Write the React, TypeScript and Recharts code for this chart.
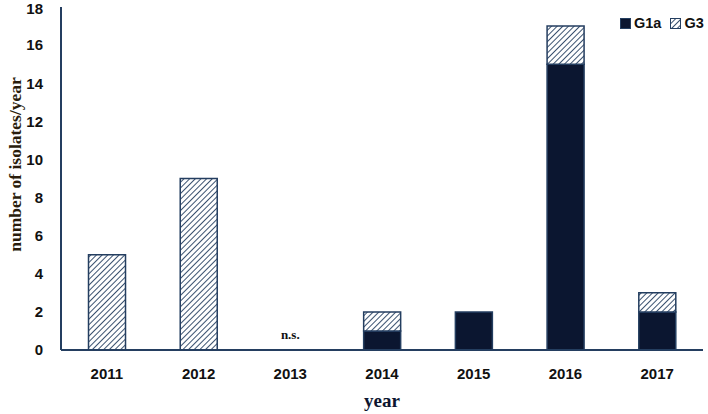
import { BarChart, Bar, XAxis, YAxis, ReferenceDot } from 'recharts';

const years = ['2011', '2012', '2013', '2014', '2015', '2016', '2017'];
const g1a = [0, 0, 0, 1, 2, 15, 2];
const g3 = [5, 9, 0, 1, 0, 2, 1];
const yTicks = [0, 2, 4, 6, 8, 10, 12, 14, 16, 18];
const notYear = '2013';

const data = years.map((year, i) => ({ year, G1a: g1a[i], G3: g3[i] }));

const NAVY = '#0b1630';
const EDGE = '#243e60';
const tickFont = { fontFamily: 'Liberation Sans', fontWeight: 700, fontSize: 15, fill: '#111' };

function LegendBox() {
    return (
        <div style={{ position: 'absolute', left: 620, top: 15, display: 'flex', alignItems: 'center', fontFamily: 'Liberation Sans', fontWeight: 700, fontSize: 14.5, color: '#111' }}>
            <svg width={11} height={11} style={{ marginRight: 3 }}>
                <rect x={0.5} y={0.5} width={10} height={10} fill={NAVY} stroke={EDGE} />
            </svg>
            <span style={{ marginRight: 9 }}>G1a</span>
            <svg width={11} height={11} style={{ marginRight: 3 }}>
                <rect x={0.5} y={0.5} width={10} height={10} fill="url(#hatch)" stroke={EDGE} />
            </svg>
            <span>G3</span>
        </div>
    );
}

// rotated axis title, placed by hand at the far left
function YLabel({ viewBox }: any) {
    const cy = viewBox.y + viewBox.height / 2 - 14;
    return (
        <text x={15} y={cy} transform={`rotate(-90, 15, ${cy})`} textAnchor="middle" dominantBaseline="central"
            style={{ fontFamily: 'Liberation Serif', fontWeight: 700, fontSize: 17.5, fill: '#2a1d0c' }}>
            number of isolates/year
        </text>
    );
}

export default function App() {
    return (
        <div style={{ position: 'absolute', left: 0, top: 0, width: 708, height: 414, background: '#fff' }}>
            <BarChart width={708} height={414} data={data} margin={{ top: 7, right: 5, bottom: 4, left: 0 }} barCategoryGap="30%">
                <defs>
                    <pattern id="hatch" width={4} height={4} patternUnits="userSpaceOnUse" patternTransform="rotate(45)">
                        <rect width={4} height={4} fill="#fff" />
                        <line x1={0} y1={0} x2={0} y2={4} stroke={EDGE} strokeWidth={1.8} />
                    </pattern>
                </defs>
                <XAxis
                    dataKey="year"
                    height={60}
                    stroke={EDGE}
                    strokeWidth={2}
                    tickLine={false}
                    tick={tickFont}
                    tickMargin={12}
                    label={{ value: 'year', position: 'insideBottom', offset: 3, style: { fontFamily: 'Liberation Serif', fontWeight: 700, fontSize: 19, fill: '#0d1530' } }}
                />
                <YAxis
                    width={61}
                    domain={[0, 18]}
                    ticks={yTicks}
                    stroke={EDGE}
                    strokeWidth={2}
                    tickLine={false}
                    tick={tickFont}
                    tickMargin={12}
                    label={<YLabel />}
                />
                <Bar dataKey="G1a" stackId="a" fill={NAVY} stroke={EDGE} strokeWidth={1.5} isAnimationActive={false} />
                <Bar dataKey="G3" stackId="a" fill="url(#hatch)" stroke={EDGE} strokeWidth={1.5} isAnimationActive={false} />
                <ReferenceDot
                    x={notYear}
                    y={0}
                    r={0}
                    stroke="none"
                    label={{ value: 'n.s.', position: 'top', offset: 11, style: { fontFamily: 'Liberation Serif', fontWeight: 700, fontSize: 13, fill: '#111' } }}
                />
            </BarChart>
            <LegendBox />
        </div>
    );
}
